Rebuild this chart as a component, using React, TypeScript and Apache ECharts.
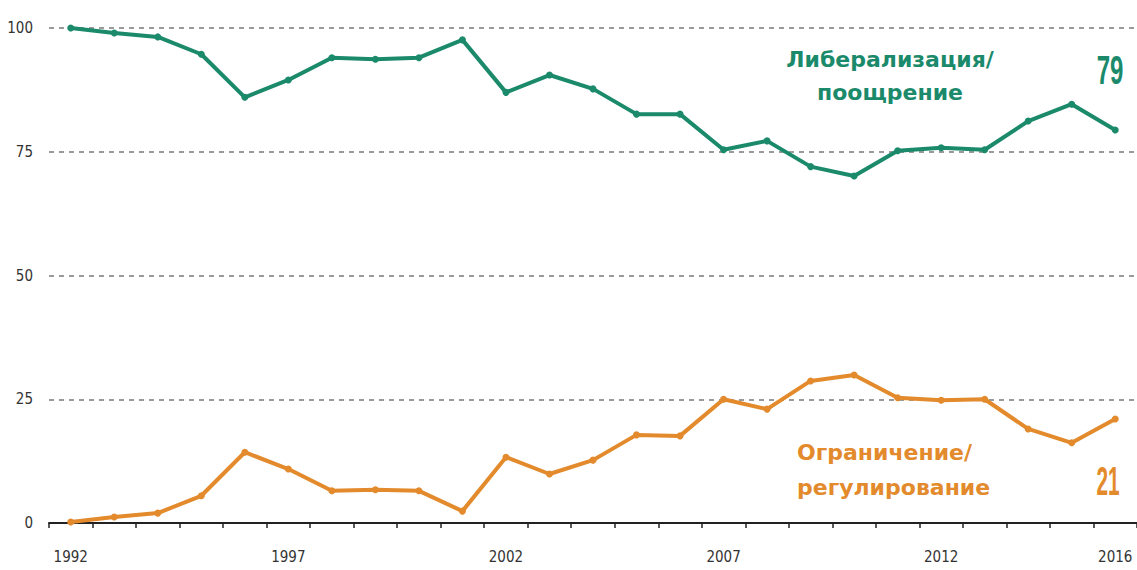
import React, { useEffect, useRef } from "react";
import * as echarts from "echarts";

const years: string[] = [
  "1992","1993","1994","1995","1996","1997","1998","1999","2000","2001","2002","2003",
  "2004","2005","2006","2007","2008","2009","2010","2011","2012","2013","2014","2015","2016",
];
const liberalization: number[] = [
  100, 99, 98.2, 94.7, 86, 89.5, 94, 93.7, 94, 97.6, 87, 90.5,
  87.7, 82.6, 82.6, 75.4, 77.2, 72, 70.1, 75.2, 75.8, 75.4, 81.2, 84.6, 79.4,
];
const restriction: number[] = [
  0.2, 1.2, 2, 5.5, 14.3, 10.9, 6.5, 6.7, 6.5, 2.4, 13.3, 9.9,
  12.7, 17.8, 17.6, 25, 23, 28.7, 29.9, 25.3, 24.8, 25, 19, 16.2, 21,
];
const yTicks: number[] = [0, 25, 50, 75, 100];
const liberalizationLabel = "Либерализация/\nпоощрение";
const restrictionLabel = "Ограничение/\nрегулирование";
const liberalizationEnd = "79";
const restrictionEnd = "21";

const GREEN = "#1b8a6b";
const ORANGE = "#e38a2c";
const LABEL_FONT = "'DejaVu Sans', sans-serif";
const COND = "'DejaVu Sans Condensed', 'DejaVu Sans', sans-serif";
const SANS = "'Liberation Sans', Arial, sans-serif";

export default function App() {
  const ref = useRef<HTMLDivElement>(null);
  useEffect(() => {
    if (!ref.current) return;
    const chart = echarts.init(ref.current, null, { renderer: "svg" });
    chart.setOption({
      animation: false,
      backgroundColor: "#ffffff",
      grid: { left: 49, right: 0, top: 28, bottom: 47, containLabel: false },
      xAxis: {
        type: "category",
        data: years,
        boundaryGap: true,
        axisLine: { show: true, lineStyle: { color: "#222", width: 2 } },
        axisTick: { show: true, length: 5, lineStyle: { color: "#222", width: 1.5 }, interval: 0 },
        axisLabel: {
          interval: (i: number) => i % 5 === 0 || i === years.length - 1,
          color: "#333",
          fontFamily: COND,
          fontSize: 15,
          margin: 26,
        },
      },
      yAxis: {
        type: "value",
        min: yTicks[0],
        max: yTicks[yTicks.length - 1],
        interval: 25,
        axisLine: { show: false },
        axisTick: { show: false },
        axisLabel: {
          color: "#333",
          fontFamily: COND,
          fontSize: 15,
          margin: 16,
        },
        splitLine: {
          show: true,
          lineStyle: { color: "#9a9a9a", type: [5, 5], width: 2 },
        },
      },
      series: [
        {
          type: "line",
          data: liberalization,
          symbol: "circle",
          symbolSize: 7,
          lineStyle: { color: GREEN, width: 4 },
          itemStyle: { color: GREEN },
          z: 3,
        },
        {
          type: "line",
          data: restriction,
          symbol: "circle",
          symbolSize: 7,
          lineStyle: { color: ORANGE, width: 4 },
          itemStyle: { color: ORANGE },
          z: 3,
        },
      ],
      graphic: [
        {
          type: "text",
          x: 890,
          y: 76,
          style: {
            text: liberalizationLabel,
            fill: GREEN,
            font: `bold 22px ${LABEL_FONT}`,
            align: "center",
            verticalAlign: "middle",
            lineHeight: 33,
          },
        },
        {
          type: "text",
          x: 1110,
          y: 70,
          scaleX: 0.6,
          style: {
            text: liberalizationEnd,
            fill: GREEN,
            font: `bold 40px ${SANS}`,
            align: "center",
            verticalAlign: "middle",
          },
        },
        {
          type: "text",
          x: 797,
          y: 470,
          style: {
            text: restrictionLabel,
            fill: ORANGE,
            font: `bold 22px ${LABEL_FONT}`,
            align: "left",
            verticalAlign: "middle",
            lineHeight: 35,
          },
        },
        {
          type: "text",
          x: 1108,
          y: 481,
          scaleX: 0.52,
          style: {
            text: restrictionEnd,
            fill: ORANGE,
            font: `bold 40px ${SANS}`,
            align: "center",
            verticalAlign: "middle",
          },
        },
      ],
    });
    return () => chart.dispose();
  }, []);
  return (
    <div
      ref={ref}
      style={{ position: "fixed", left: 0, top: 0, width: 1137, height: 570 }}
    />
  );
}
